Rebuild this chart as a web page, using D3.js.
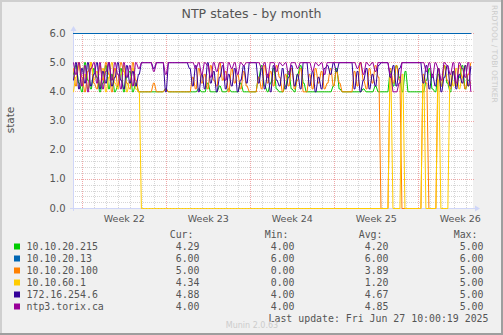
<!DOCTYPE html>
<html><head><meta charset="utf-8">
<script src="https://cdn.jsdelivr.net/npm/d3@7"></script>
<style>
html,body{margin:0;padding:0;background:#F0F0F0;}
svg{display:block;}
text{font-family:"DejaVu Sans",sans-serif;}
.mono{font-family:"DejaVu Sans Mono",monospace;}
</style></head><body>
<svg id="chart" width="503" height="335"></svg>
<script>
// ---------- data ----------
const title = "NTP states - by month";
const yLabel = "state";
const seriesNames = ["10.10.20.215", "10.10.20.13", "10.10.20.100", "10.10.60.1", "172.16.254.6", "ntp3.torix.ca"];
const statHeaders = ["Cur:", "Min:", "Avg:", "Max:"];
const curValues = ["4.29", "6.00", "5.00", "4.34", "4.88", "4.00"];
const minValues = ["4.00", "6.00", "0.00", "0.00", "4.00", "4.00"];
const avgValues = ["4.20", "6.00", "3.89", "1.20", "4.67", "4.85"];
const maxValues = ["5.00", "6.00", "5.00", "5.00", "5.00", "5.00"];
const lastUpdate = "Last update: Fri Jun 27 10:00:19 2025";
const footer = "Munin 2.0.63";
const sideText = "RRDTOOL / TOBI OETIKER";
const yTicks = [0, 1, 2, 3, 4, 5, 6];
const axisStart = "2025-05-25T05:20:00Z";
const axisEnd = "2025-06-27T13:20:00Z";
const dataStart = "2025-05-25T05:20:00Z";
const dataEnd = "2025-06-27T10:00:00Z";

// samples evenly spaced between dataStart and dataEnd
const green215 = [
 4.6,4.9,4.3,4,5,4.4,4.1,4.8,4.5,4,4.3,4.9,4.1,4.6,4,4.2,4.8,4,4.5,4.7,4,4.3,4,
 4,4,4,4,4,4,4,4,4.1,4,4,4,4,4,4,4,
 4,4,4,4.1,4,4,4.3,4,4,4,4.2,4,4,4.1,4,4,4,4.3,4,4,
 4,4,4,
 4.5,4.9,4.2,4,4.3,4.8,4.1,4,4,4.2,4.7,4.1,4,4.6,4.9,
 4.3,4,
 4,4,4,4,4,4,
 4,4,4.2,4.8,4.1,
 4,4,4,4,
 4,4,4,4.1,4,4,4,4.2,4,
 4,4,4,
 4.7,4.2,4.9,4.5,
 4,4.7,4,4,4,4,4,
 4,4.4,4.8,4.1,4,4.6,4.2,4.9,4.3,4,4.7,4.2,4.5,4.9,4.1,4.4,4.29
];
const blue13 = [6.0, 6.0];
const orange100 = [
 4.8,4.2,5,4.5,4,4.7,5,4.3,4.1,4.9,4.4,5,4.6,4,4.8,4.2,5,4.7,4.3,4.1,5,4.4,4,
 4,4,4,4,4.3,4,4,4,4.1,4,4,4,4,4,4,4,
 4,4.5,4.1,4.8,4.3,4.6,4.1,4.9,4.4,4.2,5,4.4,4.7,4,4.8,4.3,4.6,4.1,4.7,4.2,
 4,4,4,
 4.5,4.1,4.9,4.3,4.7,4.2,4.9,4.5,4,4.6,4.2,4.8,4.1,4.4,4.8,
 4,4,
 4.6,4.1,4.8,4.3,4.7,4.1,
 4.3,4.8,4.2,4.7,4.3,
 4,4,4,4,
 4.7,4.2,5,4.4,4.1,4.8,4.3,4.9,4.5,
 0,0,0,
 4.8,4.3,4.9,4.4,
 0,0,0,0,0,0,0,
 4.6,4.3,0,0,0,4.8,4.2,4.9,4.4,4.1,4.7,4.2,4.9,4.5,4.1,4.6,5.0
];
const yellow60 = [
 4,4.5,4.9,4.2,4.6,4.1,5,4.4,4.7,4.2,4.8,4,4.5,5,4.3,4.1,4.6,4.9,4,4.4,4.8,4.1,4,
 0,0,0,0,0,0,0,0,0,0,0,0,0,0,0,0,
 0,0,0,0,0,0,0,0,0,0,0,0,0,0,0,0,0,0,0,0,
 0,0,0,
 0,0,0,0,0,0,0,0,0,0,0,0,0,0,0,
 0,0,
 0,0,0,0,0,0,
 0,0,0,0,0,
 0,0,0,0,
 0,0,0,0,0,0,0,0,0,
 0,0,0,
 4.5,0,0,0,
 4.6,0,0,0,0,0,0,
 4.5,0,0,0,0,4.4,0,0,0,4.6,4.2,4.8,4.1,4.5,4.9,4.2,4.34
];
const darkPurple172 = [
 4.4,5,4.1,4.8,4.3,5,4.2,4.6,5,4.1,4.7,4.3,5,4.2,4.5,5,4.4,4.1,4.9,4.3,4.7,4.2,4.6,
 5,5,5,5,4.8,5,5,5,4.0,5,5,5,5,5,5,5,
 4.8,4.2,4.9,4,4.6,4.1,5,4.3,4.7,4,4.5,4.9,4.1,4.6,4.2,4.8,4,4.4,4.9,4.3,
 5,5,5,
 4.3,4.8,4.1,4.6,4,4.9,4.4,4.2,4.8,4.1,4.5,4.9,4.2,4.6,4.1,
 5,5,
 4.2,4.7,4,4.5,4.1,4.8,
 4.9,4.6,5,4.7,5,
 5,5,5,5,
 4.1,4.7,4,4.4,4.8,4.1,4.6,4.2,4.9,
 5,5,5,
 4.5,4.9,4.2,4.8,
 5,5,5,5,5,5,5,
 4.3,4.9,4.1,4.6,4.2,4.8,4,4.5,4.9,4.2,4.7,4.1,4.6,4.3,4.9,4.2,4.88
];
const ntp3 = [
 5,4.6,5,4.2,4.9,4,4.8,5,4.3,5,4.1,4.7,5,4.4,5,4.6,4.1,5,4.5,4.9,4.2,5,4.8,
 5,5,5,5,4.7,5,5,5,4.6,5,5,5,5,5,5,5,
 5,5,4.8,5,4.6,5,4.9,4.5,5,4.7,5,5,4.4,5,4.8,5,4.6,5,4.9,5,
 5,5,5,
 5,4.8,5,4.5,5,5,4.7,5,4.9,5,4.6,5,5,4.8,5,
 5,5,
 5,4.7,5,4.9,5,4.6,
 5,5,5,5,5,
 5,5,5,5,
 5,4.8,5,4.6,5,4.9,5,4.7,5,
 5,5,5,
 4.6,4,4,4.3,
 5,5,5,5,5,5,5,
 5,4.7,5,4.5,5,4.8,4.4,5,4.9,4.6,5,4.3,5,4.8,4.5,5,4.0
];
const seriesData = [green215, blue13, orange100, yellow60, darkPurple172, ntp3];
const seriesColors = ["#00CC00", "#0066B3", "#FF8000", "#FFCC00", "#330099", "#990099"];

// ---------- layout ----------
const W = 503, H = 335;
const plot = {left: 73, right: 473, top: 33, bottom: 208};
const svg = d3.select("#chart");

svg.append("rect").attr("x",0).attr("y",0).attr("width",W).attr("height",H).attr("fill","#F0F0F0");
svg.append("rect").attr("x",0).attr("y",0).attr("width",W).attr("height",2).attr("fill","#CFCFCF");
svg.append("rect").attr("x",0).attr("y",0).attr("width",2).attr("height",H).attr("fill","#CFCFCF");
svg.append("rect").attr("x",0).attr("y",H-2).attr("width",W).attr("height",2).attr("fill","#9E9E9E");
svg.append("rect").attr("x",W-2).attr("y",0).attr("width",2).attr("height",H).attr("fill","#9E9E9E");

const x = d3.scaleUtc().domain([new Date(axisStart), new Date(axisEnd)]).range([plot.left, plot.right]);
const y = d3.scaleLinear().domain([0, 6]).range([plot.bottom, plot.top]);

svg.append("rect").attr("x",plot.left).attr("y",plot.top)
  .attr("width",plot.right-plot.left).attr("height",plot.bottom-plot.top).attr("fill","#FFFFFF");

const grid = svg.append("g");
const crisp = v => Math.round(v) + 0.5;
d3.utcDay.range(x.domain()[0], x.domain()[1]).forEach(d => {
  const px = x(d);
  if (px <= plot.left + 1 || px >= plot.right) return;
  grid.append("line").attr("x1",crisp(px)).attr("x2",crisp(px)).attr("y1",plot.top).attr("y2",plot.bottom)
    .attr("stroke","#D6D6D6").attr("stroke-dasharray","1,1");
});
d3.range(1, 31).forEach(k => {
  if (k % 5 === 0) return;
  const py = y(k * 0.2);
  grid.append("line").attr("x1",plot.left).attr("x2",plot.right).attr("y1",crisp(py)).attr("y2",crisp(py))
    .attr("stroke","#D6D6D6").attr("stroke-dasharray","1,1");
});
const mondays = d3.utcMonday.range(x.domain()[0], x.domain()[1]);
mondays.forEach(d => {
  const px = x(d);
  grid.append("line").attr("x1",crisp(px)).attr("x2",crisp(px)).attr("y1",plot.top).attr("y2",plot.bottom)
    .attr("stroke","#F0A8A8").attr("stroke-dasharray","1,1");
});
yTicks.forEach(v => {
  const py = y(v);
  grid.append("line").attr("x1",plot.left).attr("x2",plot.right+1).attr("y1",crisp(py)).attr("y2",crisp(py))
    .attr("stroke","#F0A8A8").attr("stroke-dasharray","1,1");
});

const axisColor = "#CFD6F8";
svg.append("line").attr("x1",plot.left+0.5).attr("x2",plot.left+0.5).attr("y1",plot.bottom+3).attr("y2",28)
  .attr("stroke",axisColor);
svg.append("path").attr("d",`M${plot.left-2.5},31 L${plot.left+3.5},31 L${plot.left+0.5},26 Z`).attr("fill",axisColor);
svg.append("line").attr("x1",plot.left-3).attr("x2",477).attr("y1",plot.bottom+0.5).attr("y2",plot.bottom+0.5)
  .attr("stroke",axisColor);
svg.append("path").attr("d",`M475,${plot.bottom-2.5} L475,${plot.bottom+3.5} L480,${plot.bottom+0.5} Z`).attr("fill",axisColor);

const textColor = "#555555";
svg.append("g").selectAll("text").data(yTicks).join("text")
  .attr("x", 65.5).attr("y", d => y(d) + 3.5)
  .attr("text-anchor","end").attr("font-size","10px").attr("fill",textColor)
  .text(d => d3.format(".1f")(d));

const weekFmt = d3.utcFormat("%V");
svg.append("g").selectAll("text")
  .data(mondays.filter(d => {const c = x(d3.utcHour.offset(d, 84)); return c > plot.left + 15 && c < plot.right;}))
  .join("text")
  .attr("x", d => x(d3.utcHour.offset(d, 84))).attr("y", 221.5)
  .attr("text-anchor","middle").attr("font-size","9.5px").attr("fill",textColor)
  .text(d => "Week " + +weekFmt(d));

svg.append("text").attr("transform","translate(14,120) rotate(-90)")
  .attr("text-anchor","middle").attr("font-size","10.5px").attr("fill",textColor).text(yLabel);

svg.append("text").attr("x", 251.5).attr("y", 17.5).attr("text-anchor","middle")
  .attr("font-size","12.6px").attr("fill",textColor).text(title);

svg.append("text").attr("transform","translate(491.5,5) rotate(90)")
  .attr("font-size","7.6px").attr("fill","#CCCCCC").text(sideText);

// series lines: each sample is held for one pixel, then joined to the next (rrdtool-like)
const t0 = new Date(dataStart).getTime(), t1 = new Date(dataEnd).getTime();
const msPerPx = (new Date(axisEnd).getTime() - new Date(axisStart).getTime()) / (plot.right - plot.left);
const lines = svg.append("g").attr("transform","translate(0,0.5)");
seriesData.forEach((vals, si) => {
  const n = vals.length;
  const pts = [];
  vals.forEach((v, i) => {
    const t = t0 + i * (t1 - t0) / (n - 1);
    if (n > 2 && i > 0) pts.push([new Date(t - 0.5 * msPerPx), v]);
    else pts.push([new Date(t), v]);
    if (n > 2 && i < n - 1) pts.push([new Date(t + 0.5 * msPerPx), v]);
  });
  const line = d3.line().x(d => x(d[0])).y(d => y(d[1]));
  lines.append("path").attr("d", line(pts)).attr("fill","none")
    .attr("stroke", seriesColors[si]).attr("stroke-width", 1);
});

const leg = svg.append("g").attr("class","mono").attr("font-size","9.9px").attr("fill",textColor);
const colRight = [199.5, 294.5, 388.5, 483.5];
statHeaders.forEach((h, k) => {
  leg.append("text").attr("class","mono").attr("x", colRight[k] - 6).attr("y", 237.5)
    .attr("text-anchor","end").text(h);
});
const stats = [curValues, minValues, avgValues, maxValues];
seriesNames.forEach((name, i) => {
  const by = 249.5 + i * 12;
  leg.append("rect").attr("x", 14).attr("y", by - 6).attr("width", 6).attr("height", 6).attr("fill", seriesColors[i]);
  leg.append("text").attr("class","mono").attr("x", 26.5).attr("y", by).text(name);
  stats.forEach((arr, k) => {
    leg.append("text").attr("class","mono").attr("x", colRight[k]).attr("y", by)
      .attr("text-anchor","end").text(arr[i]);
  });
});
leg.append("text").attr("class","mono").attr("x", 488.5).attr("y", 321.5).attr("text-anchor","end").text(lastUpdate);

svg.append("text").attr("x", 252).attr("y", 328).attr("text-anchor","middle")
  .attr("font-size","8px").attr("fill","#CCCCCC").text(footer);
</script>
</body></html>
